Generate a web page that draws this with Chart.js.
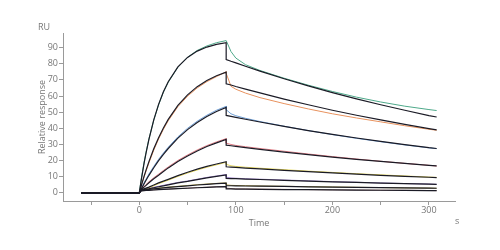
<!DOCTYPE html>
<html>
<head>
<meta charset="utf-8">
<script src="https://cdn.jsdelivr.net/npm/chart.js@4.4.1/dist/chart.umd.min.js"></script>
<style>
  html, body { margin: 0; padding: 0; background: #fff; }
  #wrap { width: 500px; height: 250px; }
</style>
</head>
<body>
<div id="wrap"><canvas id="myChart" width="500" height="250"></canvas></div>
<script>
// time points (s), shared by all curves; 90 appears twice for the fit's drop
var time = [-60, 0, 2, 5, 7, 10, 15, 20, 25, 30, 40, 50, 60, 70, 80, 90, 90, 95, 100, 110, 125, 150, 175, 200, 225, 250, 275, 300, 308];

// fitted curves (black)
var fit1 = [0, 0, 7.8, 18.4, 24.7, 33.2, 45.2, 54.8, 62.6, 68.8, 78.0, 83.9, 87.8, 90.3, 92.0, 93.0, 82.6, 81.5, 80.5, 78.4, 75.4, 70.7, 66.3, 62.1, 58.2, 54.6, 51.2, 47.9, 47.0];
var fit2 = [0, 0, 4.3, 10.4, 14.1, 19.4, 27.3, 34.2, 40.2, 45.5, 54.2, 60.7, 65.8, 69.6, 72.5, 74.8, 67.6, 66.8, 65.9, 64.3, 61.9, 58.1, 54.6, 51.2, 48.1, 45.2, 42.4, 39.8, 39.0];
var fit3 = [0, 0, 2.3, 5.7, 7.8, 10.9, 15.6, 20.0, 23.9, 27.5, 33.9, 39.2, 43.6, 47.3, 50.4, 52.9, 48.0, 47.4, 46.8, 45.6, 43.9, 41.2, 38.6, 36.2, 34.0, 31.9, 29.9, 28.0, 27.5];
var fit4 = [0, 0, 2.2, 3.6, 4.7, 6.3, 8.8, 11.0, 13.3, 15.5, 19.5, 22.9, 26.0, 28.7, 31.0, 33.1, 29.6, 29.2, 28.8, 28.1, 27.0, 25.3, 23.7, 22.2, 20.8, 19.5, 18.3, 17.1, 16.8];
var fit5 = [0, 0, 2.0, 2.6, 3.0, 3.6, 4.9, 6.2, 7.3, 8.4, 10.7, 12.8, 14.7, 16.4, 17.9, 19.3, 16.2, 16.0, 15.8, 15.4, 14.9, 14.0, 13.2, 12.4, 11.6, 10.9, 10.3, 9.7, 9.5];
var fit6 = [0, 0, 1.8, 2.2, 2.4, 2.6, 3.2, 3.8, 4.4, 5.0, 6.2, 7.1, 8.2, 9.3, 10.2, 11.1, 9.0, 8.9, 8.8, 8.6, 8.3, 7.8, 7.3, 6.9, 6.5, 6.1, 5.7, 5.4, 5.3];
var fit7 = [0, 0, 1.6, 1.9, 2.0, 2.2, 2.5, 2.8, 3.1, 3.4, 3.9, 4.4, 4.9, 5.3, 5.7, 6.0, 4.5, 4.45, 4.4, 4.3, 4.2, 4.0, 3.8, 3.6, 3.4, 3.3, 3.1, 3.0, 2.9];
var fit8 = [0, 0, 1.2, 1.4, 1.5, 1.6, 1.8, 2.0, 2.15, 2.3, 2.6, 2.9, 3.2, 3.4, 3.7, 3.9, 2.5, 2.45, 2.4, 2.35, 2.25, 2.1, 2.0, 1.85, 1.75, 1.65, 1.55, 1.45, 1.4];

// measured curves (coloured)
var data1 = [0, 0, 8.5, 19.0, 25.2, 33.5, 45.0, 54.5, 62.4, 68.5, 77.8, 84.0, 88.2, 91.0, 93.0, 94.3, 94.3, 87.5, 83.5, 79.4, 75.8, 71.0, 66.7, 62.8, 59.3, 56.3, 53.7, 51.6, 51.0];
var data2 = [0, 0, 4.3, 9.9, 13.5, 18.6, 26.5, 33.4, 39.4, 44.7, 53.4, 59.9, 65.0, 68.9, 72.0, 75.0, 74.0, 66.0, 64.2, 61.8, 59.0, 55.3, 52.0, 49.0, 46.4, 44.0, 41.6, 39.4, 38.8];
var data3 = [0, 0, 2.8, 6.4, 8.5, 11.7, 16.4, 20.8, 24.7, 28.3, 34.7, 40.0, 44.4, 48.1, 51.2, 53.6, 51.5, 49.0, 47.8, 46.2, 44.2, 41.3, 38.6, 36.1, 33.8, 31.7, 29.7, 27.9, 27.4];
var data4 = [0, 0, 2.4, 4.0, 5.2, 6.9, 9.4, 11.6, 13.9, 16.1, 20.1, 23.5, 26.6, 29.3, 31.6, 33.6, 30.8, 30.0, 29.4, 28.6, 27.5, 25.8, 24.1, 22.5, 21.0, 19.6, 18.3, 17.1, 16.6];
var data5 = [0, 0, 2.0, 2.4, 2.6, 3.1, 4.4, 5.7, 6.8, 7.9, 10.2, 12.3, 14.2, 15.9, 17.4, 19.0, 17.7, 16.8, 16.4, 15.9, 15.3, 14.4, 13.5, 12.7, 11.9, 11.2, 10.5, 9.8, 9.6];
var data6 = [0, 0, 2.0, 2.4, 2.6, 2.9, 3.5, 4.1, 4.7, 5.3, 6.5, 7.4, 8.5, 9.6, 10.5, 11.4, 9.7, 9.3, 9.1, 8.8, 8.5, 8.0, 7.5, 7.0, 6.6, 6.2, 5.8, 5.5, 5.3];
var data7 = [0, 0, 1.8, 2.1, 2.2, 2.4, 2.7, 3.0, 3.3, 3.6, 4.1, 4.6, 5.1, 5.5, 5.9, 6.2, 5.0, 4.7, 4.6, 4.5, 4.3, 4.1, 3.9, 3.7, 3.5, 3.3, 3.1, 3.0, 2.9];
var data8 = [0, 0, 1.3, 1.5, 1.6, 1.7, 1.9, 2.1, 2.25, 2.4, 2.7, 3.0, 3.3, 3.5, 3.8, 4.0, 3.0, 2.7, 2.6, 2.5, 2.4, 2.2, 2.05, 1.9, 1.8, 1.7, 1.6, 1.5, 1.4];

var yTicks = [0, 10, 20, 30, 40, 50, 60, 70, 80, 90];
var xTicks = [0, 100, 200, 300];
var xMinorTicks = [-50, 50, 150, 250];

var measured = [data1, data2, data3, data4, data5, data6, data7, data8];
var fitted = [fit1, fit2, fit3, fit4, fit5, fit6, fit7, fit8];
var colors = ['#4ea98a', '#e8925e', '#6f9fd6', '#e07c84', '#e4d659', '#9c82c6', '#b9a84e', '#a88080'];

function pts(vals) {
    return vals.map(function (v, i) { return { x: time[i], y: v }; });
}

var datasets = [];
measured.forEach(function (vals, i) {
    datasets.push({ data: pts(vals), borderColor: colors[i], borderWidth: 1, order: 2 });
});
fitted.forEach(function (vals) {
    datasets.push({ data: pts(vals), borderColor: '#1b1b26', borderWidth: 1.2, order: 1 });
});

var textColor = '#777';
var axisColor = '#9a9a9a';

// extra labels: "RU" above the y axis, "s" at the x axis end
var unitLabels = {
    id: 'unitLabels',
    afterDraw: function (chart) {
        var c = chart.ctx;
        c.save();
        c.fillStyle = textColor;
        c.font = '9px "Open Sans"';
        c.textBaseline = 'middle';
        c.textAlign = 'left';
        c.fillText('RU', 38, 27);
        c.fillText('s', 455, 221);
        c.restore();
    }
};

var ctx = document.getElementById('myChart').getContext('2d');
var chart = new Chart(ctx, {
    type: 'scatter',
    data: { datasets: datasets },
    plugins: [unitLabels],
    options: {
        responsive: false,
        animation: false,
        showLine: true,
        elements: { point: { radius: 0 }, line: { tension: 0, fill: false } },
        layout: { padding: { left: 37, right: 45, top: 33, bottom: 21 } },
        plugins: { legend: { display: false }, tooltip: { enabled: false } },
        scales: {
            x: {
                type: 'linear',
                min: -79,
                max: 327,
                afterFit: function (s) { s.height = 28; },
                afterBuildTicks: function (s) {
                    s.ticks = xTicks.concat(xMinorTicks).sort(function (a, b) { return a - b; })
                        .map(function (v) { return { value: v }; });
                },
                ticks: {
                    color: textColor,
                    font: { family: 'Open Sans', size: 9 },
                    padding: 0,
                    maxRotation: 0,
                    callback: function (v) { return xTicks.indexOf(v) >= 0 ? String(v) : ''; }
                },
                grid: { drawOnChartArea: false, tickLength: 4, color: axisColor },
                border: { color: axisColor },
                title: { display: true, text: 'Time', color: textColor, font: { family: 'Open Sans', size: 9 }, padding: 0 }
            },
            y: {
                min: -5,
                max: 99,
                afterFit: function (s) { s.width = 26; },
                afterBuildTicks: function (s) {
                    s.ticks = yTicks.map(function (v) { return { value: v }; });
                },
                ticks: {
                    color: textColor,
                    font: { family: 'Open Sans', size: 9 },
                    padding: 1
                },
                grid: { drawOnChartArea: false, tickLength: 4, color: axisColor },
                border: { color: axisColor },
                title: { display: true, text: 'Relative response', color: textColor, font: { family: 'Open Sans', size: 9 }, padding: 0 }
            }
        }
    }
});
</script>
</body>
</html>
